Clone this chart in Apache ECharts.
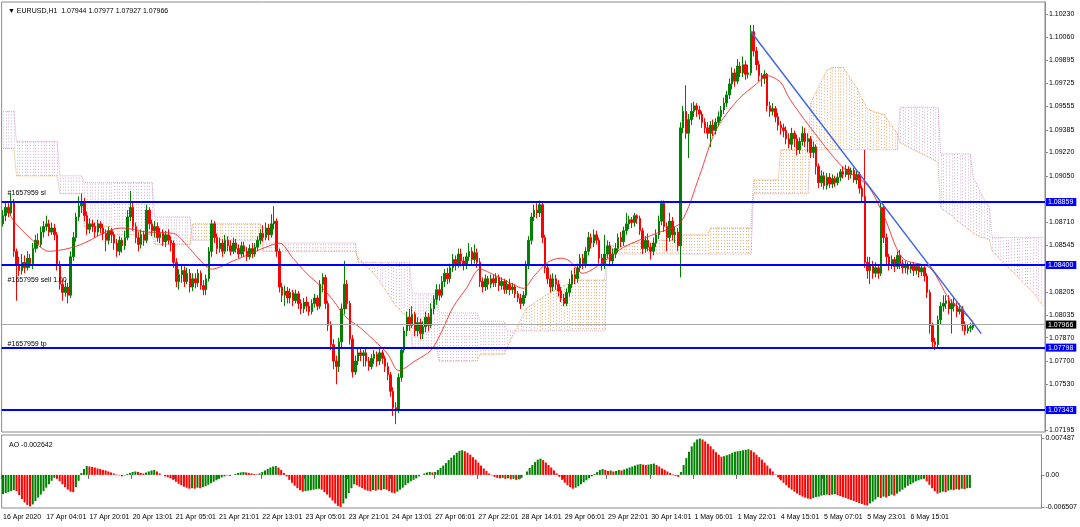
<!DOCTYPE html>
<html><head><meta charset="utf-8">
<script src="https://cdn.jsdelivr.net/npm/echarts@6/dist/echarts.min.js"></script>
<style>html,body{margin:0;padding:0;background:#fff;}#c{width:1080px;height:527px;}</style>
</head><body><div id="c"></div>
<script>
const symbolName = 'EURUSD,H1';
const tickLabels = ['16 Apr 2020','17 Apr 04:01','17 Apr 20:01','20 Apr 13:01','21 Apr 05:01','21 Apr 21:01','22 Apr 13:01','23 Apr 05:01','23 Apr 21:01','24 Apr 13:01','27 Apr 06:01','27 Apr 22:01','28 Apr 14:01','29 Apr 06:01','29 Apr 22:01','30 Apr 14:01','1 May 06:01','1 May 22:01','4 May 15:01','5 May 07:01','5 May 23:01','6 May 15:01'];
const priceTicks = [1.10230,1.10060,1.09895,1.09725,1.09555,1.09385,1.09220,1.09050,1.08710,1.08545,1.08205,1.08035,1.07870,1.07700,1.07530,1.07195];
const aoTicks = [0.007487, 0, -0.006507];
const levelLines = [1.08859, 1.08400, 1.07798, 1.07343];
const currentPrice = 1.07966;
const orderNoteTexts = ['#1657959 sl', '#1657959 sell 1.00', '#1657959 tp'];
const orderNoteLevels = [1.08859, 1.0824, 1.07798];
const trendStart = [276, 1.1010];
const trendEnd = [361, 1.0790];
const totalSlots = 385;

const opens = [
1.0870,1.0876,1.0882,1.0878,1.0886,1.0850,1.0840,1.0836,1.0842,1.0838,
1.0845,1.0841,1.0852,1.0858,1.0855,1.0864,1.0868,1.0870,1.0864,1.0867,
1.0862,1.0840,1.0826,1.0820,1.0824,1.0818,1.0846,1.0860,1.0875,1.0883,
1.0886,1.0876,1.0866,1.0870,1.0868,1.0864,1.0870,1.0867,1.0863,1.0858,
1.0865,1.0862,1.0856,1.0850,1.0858,1.0854,1.0860,1.0875,1.0882,1.0868,
1.0860,1.0855,1.0862,1.0858,1.0880,1.0870,1.0865,1.0868,1.0860,1.0863,
1.0857,1.0862,1.0858,1.0856,1.0842,1.0828,1.0833,1.0836,1.0828,1.0834,
1.0824,1.0830,1.0827,1.0834,1.0825,1.0822,1.0830,1.0850,1.0870,1.0860,
1.0852,1.0856,1.0850,1.0858,1.0854,1.0850,1.0856,1.0852,1.0848,1.0854,
1.0850,1.0846,1.0852,1.0848,1.0853,1.0858,1.0863,1.0860,1.0867,1.0862,
1.0870,1.0872,1.0850,1.0824,1.0818,1.0821,1.0816,1.0820,1.0814,1.0819,
1.0812,1.0808,1.0813,1.0810,1.0806,1.0812,1.0816,1.0810,1.0826,1.0831,
1.0812,1.0796,1.0782,1.0770,1.0766,1.0784,1.0808,1.0826,1.0812,1.0786,
1.0762,1.0770,1.0776,1.0774,1.0776,1.0770,1.0766,1.0772,1.0775,1.0770,
1.0776,1.0772,1.0766,1.0760,1.0748,1.0736,1.0734,1.0758,1.0778,1.0792,
1.0802,1.0796,1.0804,1.0792,1.0798,1.0790,1.0795,1.0802,1.0796,1.0808,
1.0815,1.0822,1.0818,1.0828,1.0834,1.0830,1.0838,1.0844,1.0840,1.0848,
1.0843,1.0840,1.0846,1.0850,1.0844,1.0849,1.0842,1.0828,1.0824,1.0830,
1.0826,1.0830,1.0827,1.0831,1.0825,1.0828,1.0822,1.0826,1.0822,1.0824,
1.0819,1.0816,1.0812,1.0818,1.0840,1.0858,1.0875,1.0880,1.0878,1.0884,
1.0860,1.0838,1.0830,1.0824,1.0830,1.0826,1.0821,1.0816,1.0812,1.0820,
1.0826,1.0833,1.0830,1.0838,1.0845,1.0841,1.0850,1.0860,1.0856,1.0862,
1.0858,1.0845,1.0840,1.0848,1.0854,1.0843,1.0848,1.0852,1.0860,1.0857,
1.0865,1.0870,1.0873,1.0871,1.0876,1.0874,1.0865,1.0852,1.0858,1.0853,
1.0850,1.0856,1.0862,1.0872,1.0885,1.0868,1.0860,1.0872,1.0862,1.0864,
1.0854,1.0940,1.0952,1.0936,1.0946,1.0952,1.0956,1.0953,1.0950,1.0944,
1.0940,1.0936,1.0942,1.0938,1.0944,1.0948,1.0953,1.0958,1.0964,1.0972,
1.0980,1.0974,1.0985,1.0980,1.0986,1.0979,1.0980,1.1010,1.0996,1.0986,
1.0978,1.0976,1.0979,1.0956,1.0952,1.0954,1.0948,1.0942,1.0940,1.0938,
1.0932,1.0928,1.0936,1.0932,1.0924,1.0930,1.0936,1.0930,1.0932,1.0922,
1.0926,1.0912,1.0900,1.0905,1.0898,1.0904,1.0899,1.0903,1.0900,1.0904,
1.0908,1.0906,1.0910,1.0906,1.0909,1.0902,1.0906,1.0896,1.0890,1.0842,
1.0836,1.0840,1.0834,1.0838,1.0834,1.0882,1.0860,1.0846,1.0840,1.0844,
1.0839,1.0847,1.0841,1.0838,1.0840,1.0837,1.0840,1.0836,1.0839,1.0835,
1.0838,1.0832,1.0820,1.0796,1.0784,1.0782,1.0800,1.0810,1.0812,1.0814,
1.0808,1.0812,1.0810,1.0806,1.0808,1.0796,1.0792,1.0794,1.07944];

const closes = [
1.0876,1.0882,1.0878,1.0886,1.0850,1.0840,1.0836,1.0842,1.0838,1.0845,
1.0841,1.0852,1.0858,1.0855,1.0864,1.0868,1.0870,1.0864,1.0867,1.0862,
1.0840,1.0826,1.0820,1.0824,1.0818,1.0846,1.0860,1.0875,1.0883,1.0886,
1.0876,1.0866,1.0870,1.0868,1.0864,1.0870,1.0867,1.0863,1.0858,1.0865,
1.0862,1.0856,1.0850,1.0858,1.0854,1.0860,1.0875,1.0882,1.0868,1.0860,
1.0855,1.0862,1.0858,1.0880,1.0870,1.0865,1.0868,1.0860,1.0863,1.0857,
1.0862,1.0858,1.0856,1.0842,1.0828,1.0833,1.0836,1.0828,1.0834,1.0824,
1.0830,1.0827,1.0834,1.0825,1.0822,1.0830,1.0850,1.0870,1.0860,1.0852,
1.0856,1.0850,1.0858,1.0854,1.0850,1.0856,1.0852,1.0848,1.0854,1.0850,
1.0846,1.0852,1.0848,1.0853,1.0858,1.0863,1.0860,1.0867,1.0862,1.0870,
1.0872,1.0850,1.0824,1.0818,1.0821,1.0816,1.0820,1.0814,1.0819,1.0812,
1.0808,1.0813,1.0810,1.0806,1.0812,1.0816,1.0810,1.0826,1.0831,1.0812,
1.0796,1.0782,1.0770,1.0766,1.0784,1.0808,1.0826,1.0812,1.0786,1.0762,
1.0770,1.0776,1.0774,1.0776,1.0770,1.0766,1.0772,1.0775,1.0770,1.0776,
1.0772,1.0766,1.0760,1.0748,1.0736,1.0734,1.0758,1.0778,1.0792,1.0802,
1.0796,1.0804,1.0792,1.0798,1.0790,1.0795,1.0802,1.0796,1.0808,1.0815,
1.0822,1.0818,1.0828,1.0834,1.0830,1.0838,1.0844,1.0840,1.0848,1.0843,
1.0840,1.0846,1.0850,1.0844,1.0849,1.0842,1.0828,1.0824,1.0830,1.0826,
1.0830,1.0827,1.0831,1.0825,1.0828,1.0822,1.0826,1.0822,1.0824,1.0819,
1.0816,1.0812,1.0818,1.0840,1.0858,1.0875,1.0880,1.0878,1.0884,1.0860,
1.0838,1.0830,1.0824,1.0830,1.0826,1.0821,1.0816,1.0812,1.0820,1.0826,
1.0833,1.0830,1.0838,1.0845,1.0841,1.0850,1.0860,1.0856,1.0862,1.0858,
1.0845,1.0840,1.0848,1.0854,1.0843,1.0848,1.0852,1.0860,1.0857,1.0865,
1.0870,1.0873,1.0871,1.0876,1.0874,1.0865,1.0852,1.0858,1.0853,1.0850,
1.0856,1.0862,1.0872,1.0885,1.0868,1.0860,1.0872,1.0862,1.0864,1.0854,
1.0940,1.0952,1.0936,1.0946,1.0952,1.0956,1.0953,1.0950,1.0944,1.0940,
1.0936,1.0942,1.0938,1.0944,1.0948,1.0953,1.0958,1.0964,1.0972,1.0980,
1.0974,1.0985,1.0980,1.0986,1.0979,1.0980,1.1010,1.0996,1.0986,1.0978,
1.0976,1.0979,1.0956,1.0952,1.0954,1.0948,1.0942,1.0940,1.0938,1.0932,
1.0928,1.0936,1.0932,1.0924,1.0930,1.0936,1.0930,1.0932,1.0922,1.0926,
1.0912,1.0900,1.0905,1.0898,1.0904,1.0899,1.0903,1.0900,1.0904,1.0908,
1.0906,1.0910,1.0906,1.0909,1.0902,1.0906,1.0896,1.0890,1.0842,1.0836,
1.0840,1.0834,1.0838,1.0834,1.0882,1.0860,1.0846,1.0840,1.0844,1.0839,
1.0847,1.0841,1.0838,1.0840,1.0837,1.0840,1.0836,1.0839,1.0835,1.0838,
1.0832,1.0820,1.0796,1.0784,1.0782,1.0800,1.0810,1.0812,1.0814,1.0808,
1.0812,1.0810,1.0806,1.0808,1.0796,1.0792,1.0794,1.0795,1.07966];

const lows = [
1.0868,1.0872,1.0875,1.0876,1.0846,1.0814,1.0832,1.0833,1.0834,1.0836,
1.0838,1.0837,1.0849,1.0852,1.0853,1.0860,1.0865,1.0861,1.0862,1.0858,
1.0836,1.0822,1.0814,1.0817,1.0812,1.0816,1.0843,1.0857,1.0872,1.0878,
1.0872,1.0862,1.0863,1.0864,1.0860,1.0861,1.0863,1.0858,1.0850,1.0855,
1.0856,1.0851,1.0846,1.0847,1.0849,1.0851,1.0858,1.0872,1.0865,1.0856,
1.0850,1.0852,1.0854,1.0856,1.0866,1.0861,1.0860,1.0857,1.0856,1.0854,
1.0853,1.0855,1.0850,1.0838,1.0824,1.0822,1.0827,1.0824,1.0826,1.0820,
1.0821,1.0823,1.0824,1.0822,1.0818,1.0818,1.0828,1.0846,1.0856,1.0848,
1.0849,1.0846,1.0848,1.0850,1.0847,1.0848,1.0849,1.0845,1.0846,1.0846,
1.0843,1.0844,1.0845,1.0846,1.0850,1.0855,1.0857,1.0858,1.0858,1.0860,
1.0866,1.0846,1.0820,1.0813,1.0810,1.0812,1.0812,1.0810,1.0812,1.0808,
1.0804,1.0805,1.0806,1.0803,1.0804,1.0809,1.0807,1.0808,1.0820,1.0808,
1.0792,1.0778,1.0764,1.0753,1.0762,1.0780,1.0804,1.0808,1.0782,1.0758,
1.0760,1.0767,1.0770,1.0766,1.0766,1.0763,1.0764,1.0768,1.0766,1.0767,
1.0768,1.0762,1.0756,1.0744,1.0730,1.0724,1.0732,1.0755,1.0776,1.0788,
1.0792,1.0794,1.0788,1.0788,1.0786,1.0786,1.0791,1.0792,1.0794,1.0804,
1.0811,1.0814,1.0816,1.0824,1.0826,1.0827,1.0835,1.0836,1.0838,1.0839,
1.0836,1.0837,1.0843,1.0840,1.0841,1.0838,1.0824,1.0820,1.0821,1.0822,
1.0823,1.0824,1.0824,1.0821,1.0822,1.0819,1.0819,1.0818,1.0819,1.0816,
1.0813,1.0808,1.0810,1.0816,1.0837,1.0855,1.0872,1.0874,1.0875,1.0856,
1.0834,1.0826,1.0820,1.0821,1.0822,1.0817,1.0813,1.0810,1.0810,1.0817,
1.0823,1.0826,1.0827,1.0835,1.0837,1.0838,1.0847,1.0852,1.0853,1.0855,
1.0841,1.0836,1.0837,1.0845,1.0839,1.0840,1.0845,1.0849,1.0853,1.0854,
1.0862,1.0866,1.0867,1.0868,1.0870,1.0862,1.0848,1.0849,1.0850,1.0844,
1.0847,1.0853,1.0859,1.0869,1.0864,1.0850,1.0857,1.0858,1.0856,1.0850,
1.0831,1.0936,1.0932,1.0918,1.0942,1.0948,1.0948,1.0946,1.0940,1.0936,
1.0932,1.0926,1.0934,1.0935,1.0941,1.0945,1.0950,1.0955,1.0961,1.0968,
1.0970,1.0972,1.0977,1.0977,1.0975,1.0976,1.0978,1.0992,1.0982,1.0974,
1.0970,1.0972,1.0952,1.0948,1.0949,1.0944,1.0938,1.0935,1.0933,1.0928,
1.0925,1.0924,1.0926,1.0920,1.0921,1.0927,1.0926,1.0922,1.0918,1.0918,
1.0906,1.0896,1.0897,1.0895,1.0895,1.0896,1.0896,1.0897,1.0898,1.0901,
1.0903,1.0904,1.0902,1.0903,1.0900,1.0899,1.0892,1.0886,1.0838,1.0830,
1.0826,1.0830,1.0831,1.0830,1.0832,1.0856,1.0840,1.0836,1.0837,1.0835,
1.0837,1.0837,1.0834,1.0834,1.0833,1.0834,1.0832,1.0833,1.0831,1.0832,
1.0828,1.0816,1.0790,1.0780,1.0778,1.0780,1.0797,1.0806,1.0808,1.0804,
1.0790,1.0806,1.0802,1.0804,1.0792,1.0789,1.0790,1.0791,1.07927];

const highs = [
1.0880,1.0886,1.0885,1.0892,1.0888,1.0852,1.0846,1.0848,1.0847,1.0850,
1.0848,1.0856,1.0862,1.0863,1.0868,1.0872,1.0876,1.0873,1.0871,1.0870,
1.0864,1.0843,1.0829,1.0829,1.0827,1.0850,1.0864,1.0878,1.0890,1.0892,
1.0889,1.0879,1.0874,1.0873,1.0871,1.0873,1.0872,1.0870,1.0866,1.0868,
1.0867,1.0864,1.0859,1.0861,1.0860,1.0865,1.0880,1.0894,1.0886,1.0871,
1.0864,1.0866,1.0865,1.0884,1.0882,1.0873,1.0872,1.0871,1.0867,1.0866,
1.0865,1.0866,1.0861,1.0858,1.0845,1.0837,1.0840,1.0839,1.0838,1.0837,
1.0834,1.0834,1.0837,1.0836,1.0829,1.0833,1.0853,1.0873,1.0872,1.0863,
1.0860,1.0859,1.0862,1.0861,1.0858,1.0860,1.0859,1.0855,1.0857,1.0857,
1.0853,1.0855,1.0856,1.0856,1.0861,1.0866,1.0869,1.0871,1.0870,1.0877,
1.0883,1.0874,1.0852,1.0827,1.0825,1.0824,1.0823,1.0822,1.0822,1.0821,
1.0815,1.0816,1.0817,1.0813,1.0815,1.0819,1.0818,1.0829,1.0834,1.0833,
1.0814,1.0799,1.0786,1.0774,1.0787,1.0812,1.0843,1.0829,1.0814,1.0789,
1.0774,1.0779,1.0780,1.0778,1.0779,1.0773,1.0775,1.0778,1.0777,1.0779,
1.0778,1.0774,1.0769,1.0762,1.0751,1.0740,1.0761,1.0780,1.0795,1.0806,
1.0808,1.0810,1.0806,1.0802,1.0801,1.0799,1.0806,1.0805,1.0812,1.0818,
1.0826,1.0826,1.0832,1.0837,1.0838,1.0841,1.0848,1.0847,1.0852,1.0852,
1.0846,1.0849,1.0856,1.0853,1.0855,1.0852,1.0845,1.0831,1.0833,1.0832,
1.0833,1.0833,1.0834,1.0833,1.0831,1.0830,1.0829,1.0830,1.0827,1.0826,
1.0821,1.0819,1.0821,1.0843,1.0861,1.0878,1.0884,1.0885,1.0887,1.0886,
1.0862,1.0841,1.0833,1.0834,1.0833,1.0829,1.0824,1.0819,1.0823,1.0830,
1.0836,1.0838,1.0841,1.0848,1.0848,1.0853,1.0864,1.0863,1.0866,1.0865,
1.0860,1.0848,1.0862,1.0858,1.0857,1.0852,1.0856,1.0863,1.0864,1.0868,
1.0878,1.0876,1.0875,1.0878,1.0877,1.0876,1.0867,1.0861,1.0863,1.0856,
1.0860,1.0866,1.0876,1.0887,1.0887,1.0871,1.0878,1.0875,1.0868,1.0867,
1.0944,1.0956,1.0971,1.0950,1.0958,1.0959,1.0958,1.0956,1.0952,1.0947,
1.0944,1.0945,1.0946,1.0947,1.0952,1.0956,1.0962,1.0967,1.0976,1.0984,
1.0983,1.0990,1.0988,1.0992,1.0989,1.0986,1.1015,1.1015,1.0999,1.0989,
1.0980,1.0982,1.0980,1.0959,1.0958,1.0956,1.0951,1.0945,1.0943,1.0941,
1.0936,1.0940,1.0938,1.0935,1.0933,1.0941,1.0940,1.0936,1.0934,1.0930,
1.0928,1.0914,1.0909,1.0908,1.0907,1.0907,1.0906,1.0905,1.0907,1.0910,
1.0912,1.0913,1.0912,1.0911,1.0911,1.0909,1.0908,1.0898,1.0924,1.0846,
1.0846,1.0843,1.0842,1.0840,1.0886,1.0884,1.0863,1.0848,1.0847,1.0846,
1.0850,1.0851,1.0844,1.0843,1.0842,1.0842,1.0842,1.0841,1.0841,1.0840,
1.0840,1.0834,1.0822,1.0798,1.0787,1.0803,1.0813,1.0818,1.0818,1.0818,
1.0815,1.0816,1.0813,1.0812,1.0810,1.0799,1.0797,1.0798,1.07977];

const spanA = [
1.0925,1.0925,1.0925,1.0925,1.0925,1.0905,1.0905,1.0905,1.0905,1.0905,
1.0905,1.0905,1.0905,1.0905,1.0905,1.0905,1.0905,1.0905,1.0905,1.0905,
1.0905,1.0892,1.0892,1.0892,1.0892,1.0892,1.0892,1.0892,1.0892,1.0892,
1.0868,1.0868,1.0868,1.0868,1.0868,1.0868,1.0868,1.0868,1.0868,1.0868,
1.0868,1.0862,1.0862,1.0862,1.0862,1.0862,1.0862,1.0862,1.0862,1.0862,
1.0862,1.0862,1.0862,1.0862,1.0862,1.0862,1.0855,1.0855,1.0855,1.0855,
1.0855,1.0855,1.0855,1.0855,1.0855,1.0855,1.0855,1.0855,1.0855,1.0855,
1.0870,1.0870,1.0870,1.0870,1.0870,1.0870,1.0870,1.0870,1.0870,1.0870,
1.0870,1.0870,1.0870,1.0870,1.0870,1.0870,1.0870,1.0870,1.0870,1.0870,
1.0870,1.0870,1.0870,1.0870,1.0870,1.0870,1.0850,1.0850,1.0850,1.0850,
1.0850,1.0850,1.0850,1.0850,1.0850,1.0850,1.0850,1.0850,1.0850,1.0850,
1.0850,1.0850,1.0850,1.0850,1.0850,1.0850,1.0850,1.0850,1.0850,1.0850,
1.0850,1.0850,1.0850,1.0850,1.0850,1.0850,1.0850,1.0850,1.0850,1.0850,
1.0850,1.0845,1.0843,1.0841,1.0839,1.0837,1.0835,1.0833,1.0831,1.0828,
1.0825,1.0822,1.0819,1.0816,1.0813,1.0810,1.0808,1.0806,1.0804,1.0803,
1.0802,1.0780,1.0780,1.0780,1.0780,1.0780,1.0780,1.0780,1.0780,1.0780,
1.0780,1.0770,1.0770,1.0770,1.0770,1.0770,1.0770,1.0770,1.0770,1.0770,
1.0770,1.0770,1.0770,1.0770,1.0770,1.0770,1.0775,1.0775,1.0775,1.0775,
1.0775,1.0775,1.0775,1.0775,1.0775,1.0775,1.0780,1.0784,1.0788,1.0792,
1.0796,1.0800,1.0804,1.0808,1.0810,1.0811,1.0812,1.0814,1.0815,1.0816,
1.0818,1.0819,1.0820,1.0821,1.0822,1.0823,1.0824,1.0825,1.0826,1.0828,
1.0829,1.0829,1.0829,1.0829,1.0829,1.0829,1.0829,1.0829,1.0829,1.0829,
1.0829,1.0829,1.0829,1.0854,1.0854,1.0854,1.0854,1.0854,1.0854,1.0854,
1.0854,1.0854,1.0856,1.0856,1.0856,1.0856,1.0856,1.0856,1.0856,1.0856,
1.0856,1.0858,1.0858,1.0858,1.0858,1.0858,1.0858,1.0858,1.0858,1.0858,
1.0858,1.0862,1.0862,1.0862,1.0862,1.0862,1.0862,1.0862,1.0862,1.0862,
1.0862,1.0867,1.0867,1.0867,1.0867,1.0867,1.0867,1.0867,1.0867,1.0867,
1.0867,1.0867,1.0867,1.0867,1.0867,1.0867,1.0867,1.0902,1.0902,1.0902,
1.0902,1.0902,1.0902,1.0902,1.0902,1.0902,1.0902,1.0924,1.0924,1.0924,
1.0924,1.0924,1.0924,1.0924,1.0924,1.0924,1.0924,1.0924,1.0958,1.0962,
1.0966,1.0970,1.0974,1.0978,1.0982,1.0983,1.0984,1.0984,1.0984,1.0984,
1.0984,1.0981,1.0978,1.0975,1.0972,1.0969,1.0965,1.0961,1.0957,1.0954,
1.0953,1.0952,1.0951,1.0951,1.0950,1.0950,1.0947,1.0944,1.0941,1.0938,
1.0936,1.0929,1.0928,1.0927,1.0926,1.0925,1.0924,1.0923,1.0922,1.0921,
1.0920,1.0919,1.0918,1.0917,1.0916,1.0914,1.0882,1.0880,1.0879,1.0877,
1.0876,1.0874,1.0872,1.0871,1.0869,1.0868,1.0866,1.0865,1.0863,1.0862,
1.0861,1.0860,1.0860,1.0859,1.0858,1.0850,1.0848,1.0846,1.0844,1.0842,
1.0840,1.0838,1.0836,1.0834,1.0832,1.0830,1.0828,1.0826,1.0824,1.0822,
1.0820,1.0818,1.0815,1.0812,1.0810];

const spanB = [
1.0952,1.0952,1.0952,1.0952,1.0952,1.0930,1.0930,1.0930,1.0930,1.0930,
1.0930,1.0930,1.0930,1.0930,1.0930,1.0930,1.0930,1.0930,1.0930,1.0930,
1.0930,1.0905,1.0905,1.0905,1.0905,1.0905,1.0905,1.0905,1.0905,1.0905,
1.0900,1.0900,1.0900,1.0900,1.0900,1.0900,1.0900,1.0900,1.0900,1.0900,
1.0900,1.0900,1.0900,1.0900,1.0900,1.0900,1.0900,1.0900,1.0900,1.0900,
1.0900,1.0900,1.0900,1.0900,1.0900,1.0900,1.0875,1.0875,1.0875,1.0875,
1.0875,1.0875,1.0875,1.0875,1.0875,1.0875,1.0875,1.0875,1.0875,1.0875,
1.0858,1.0858,1.0858,1.0858,1.0858,1.0858,1.0858,1.0858,1.0858,1.0858,
1.0858,1.0858,1.0858,1.0858,1.0858,1.0858,1.0858,1.0858,1.0858,1.0858,
1.0858,1.0858,1.0858,1.0858,1.0858,1.0858,1.0856,1.0856,1.0856,1.0856,
1.0856,1.0856,1.0856,1.0856,1.0856,1.0856,1.0856,1.0856,1.0856,1.0856,
1.0856,1.0856,1.0856,1.0856,1.0856,1.0856,1.0856,1.0856,1.0856,1.0856,
1.0856,1.0856,1.0856,1.0856,1.0856,1.0856,1.0856,1.0856,1.0856,1.0856,
1.0856,1.0842,1.0842,1.0842,1.0842,1.0842,1.0842,1.0842,1.0842,1.0842,
1.0842,1.0842,1.0842,1.0842,1.0842,1.0842,1.0842,1.0842,1.0842,1.0842,
1.0842,1.0819,1.0819,1.0819,1.0819,1.0819,1.0819,1.0819,1.0819,1.0819,
1.0819,1.0805,1.0805,1.0805,1.0805,1.0805,1.0805,1.0805,1.0805,1.0805,
1.0805,1.0805,1.0805,1.0805,1.0805,1.0805,1.0799,1.0799,1.0799,1.0799,
1.0799,1.0799,1.0799,1.0799,1.0799,1.0799,1.0792,1.0792,1.0792,1.0792,
1.0792,1.0792,1.0792,1.0792,1.0792,1.0792,1.0792,1.0792,1.0792,1.0792,
1.0792,1.0792,1.0792,1.0792,1.0792,1.0792,1.0792,1.0792,1.0792,1.0792,
1.0792,1.0792,1.0792,1.0792,1.0792,1.0792,1.0792,1.0792,1.0792,1.0792,
1.0792,1.0792,1.0792,1.0848,1.0848,1.0848,1.0848,1.0848,1.0848,1.0848,
1.0848,1.0848,1.0848,1.0848,1.0848,1.0848,1.0848,1.0848,1.0848,1.0848,
1.0848,1.0848,1.0848,1.0848,1.0848,1.0848,1.0848,1.0848,1.0848,1.0848,
1.0848,1.0848,1.0848,1.0848,1.0848,1.0848,1.0848,1.0848,1.0848,1.0848,
1.0848,1.0848,1.0848,1.0848,1.0848,1.0848,1.0848,1.0848,1.0848,1.0848,
1.0848,1.0848,1.0848,1.0848,1.0848,1.0848,1.0848,1.0892,1.0892,1.0892,
1.0892,1.0892,1.0892,1.0892,1.0892,1.0892,1.0892,1.0892,1.0892,1.0892,
1.0892,1.0892,1.0892,1.0892,1.0892,1.0892,1.0892,1.0892,1.0924,1.0924,
1.0924,1.0924,1.0924,1.0924,1.0924,1.0924,1.0924,1.0924,1.0924,1.0924,
1.0924,1.0924,1.0924,1.0924,1.0924,1.0924,1.0924,1.0924,1.0924,1.0924,
1.0924,1.0924,1.0924,1.0924,1.0924,1.0924,1.0924,1.0924,1.0924,1.0924,
1.0924,1.0955,1.0955,1.0955,1.0955,1.0955,1.0955,1.0955,1.0955,1.0955,
1.0955,1.0955,1.0955,1.0955,1.0955,1.0955,1.0921,1.0921,1.0921,1.0921,
1.0921,1.0921,1.0921,1.0921,1.0921,1.0921,1.0921,1.0921,1.0904,1.0900,
1.0896,1.0892,1.0888,1.0885,1.0882,1.0860,1.0860,1.0860,1.0860,1.0860,
1.0860,1.0860,1.0860,1.0860,1.0860,1.0860,1.0860,1.0860,1.0860,1.0860,
1.0860,1.0860,1.0860,1.0860,1.0860];

const maPoints = [[2,1.0880],[4,1.0872],[11,1.0858],[17,1.0850],[24,1.0852],[30,1.0856],[39,1.0865],[44,1.0867],[53,1.0864],[63,1.0863],[68,1.0854],[73,1.0843],[77,1.0837],[85,1.0843],[91,1.0848],[97,1.0853],[102,1.0856],[107,1.0845],[112,1.0834],[117,1.0825],[122,1.0814],[126,1.0803],[132,1.0794],[137,1.0785],[142,1.0775],[146,1.0763],[152,1.0770],[158,1.0778],[162,1.0792],[166,1.0809],[171,1.0823],[176,1.0837],[182,1.0832],[187,1.0827],[192,1.0823],[196,1.0832],[201,1.0842],[206,1.0845],[209,1.0843],[214,1.0834],[220,1.0840],[229,1.0853],[241,1.0863],[250,1.0871],[257,1.0905],[263,1.0938],[271,1.0960],[278,1.0972],[282,1.0978],[287,1.0973],[290,1.0962],[298,1.0940],[310,1.0911],[319,1.0898],[325,1.0876],[332,1.0845],[342,1.0838],[349,1.0816],[358,1.0799]];

const aoValues = [
-0.0039,-0.0037,-0.0035,-0.0033,-0.0031,-0.0033,-0.0041,-0.0049,-0.0056,-0.0061,
-0.0064,-0.0060,-0.0053,-0.0046,-0.0040,-0.0033,-0.0026,-0.0019,-0.0012,-0.0006,
-0.0008,-0.0013,-0.0019,-0.0025,-0.0030,-0.0034,-0.0035,-0.0025,-0.0012,0.0004,
0.0012,0.0018,0.0017,0.0016,0.0015,0.0013,0.0012,0.0010,0.0009,0.0007,
0.0005,0.0003,0.0001,-0.0001,-0.0003,-0.0001,0.0002,0.0004,0.0006,0.0007,
0.0006,0.0004,0.0003,0.0005,0.0007,0.0009,0.0010,0.0007,0.0003,0.0000,
-0.0003,-0.0005,-0.0007,-0.0010,-0.0014,-0.0018,-0.0021,-0.0024,-0.0026,-0.0028,
-0.0027,-0.0028,-0.0026,-0.0027,-0.0025,-0.0023,-0.0020,-0.0017,-0.0014,-0.0011,
-0.0008,-0.0005,-0.0003,-0.0001,-0.0002,0.0000,0.0002,0.0004,0.0005,0.0006,
0.0005,0.0004,0.0003,0.0002,0.0001,0.0003,0.0006,0.0009,0.0012,0.0015,
0.0017,0.0018,0.0015,0.0010,0.0004,-0.0003,-0.0010,-0.0016,-0.0022,-0.0027,
-0.0031,-0.0034,-0.0033,-0.0032,-0.0031,-0.0030,-0.0029,-0.0028,-0.0030,-0.0035,
-0.0040,-0.0046,-0.0052,-0.0058,-0.0063,-0.0065,-0.0058,-0.0048,-0.0037,-0.0027,
-0.0019,-0.0021,-0.0024,-0.0027,-0.0030,-0.0032,-0.0033,-0.0031,-0.0032,-0.0030,
-0.0031,-0.0029,-0.0030,-0.0033,-0.0036,-0.0037,-0.0034,-0.0030,-0.0026,-0.0021,
-0.0017,-0.0013,-0.0010,-0.0007,-0.0003,0.0000,0.0003,0.0005,0.0006,0.0005,
0.0006,0.0010,0.0014,0.0019,0.0024,0.0030,0.0035,0.0040,0.0045,0.0049,
0.0050,0.0048,0.0045,0.0041,0.0036,0.0031,0.0025,0.0019,0.0013,0.0008,
0.0003,-0.0001,-0.0004,-0.0006,-0.0007,-0.0006,-0.0008,-0.0007,-0.0009,-0.0008,
-0.0010,-0.0009,-0.0006,0.0000,0.0007,0.0014,0.0020,0.0026,0.0031,0.0033,
0.0030,0.0025,0.0020,0.0015,0.0009,0.0003,-0.0004,-0.0010,-0.0016,-0.0021,
-0.0025,-0.0028,-0.0026,-0.0023,-0.0019,-0.0015,-0.0011,-0.0007,-0.0003,0.0002,
0.0006,0.0010,0.0012,0.0010,0.0008,0.0009,0.0007,0.0008,0.0010,0.0009,
0.0011,0.0013,0.0015,0.0017,0.0019,0.0021,0.0022,0.0021,0.0020,0.0021,
0.0022,0.0023,0.0020,0.0017,0.0013,0.0010,0.0007,0.0004,0.0001,-0.0002,
-0.0004,0.0006,0.0020,0.0034,0.0047,0.0058,0.0066,0.0072,0.0074,0.0072,
0.0068,0.0063,0.0058,0.0052,0.0046,0.0041,0.0037,0.0038,0.0040,0.0042,
0.0045,0.0047,0.0048,0.0049,0.0050,0.0051,0.0052,0.0050,0.0046,0.0041,
0.0036,0.0031,0.0025,0.0019,0.0013,0.0007,0.0001,-0.0005,-0.0011,-0.0016,
-0.0021,-0.0026,-0.0030,-0.0034,-0.0038,-0.0041,-0.0044,-0.0046,-0.0048,-0.0049,
-0.0047,-0.0045,-0.0044,-0.0042,-0.0041,-0.0040,-0.0041,-0.0040,-0.0039,-0.0041,
-0.0043,-0.0045,-0.0047,-0.0049,-0.0051,-0.0053,-0.0055,-0.0057,-0.0059,-0.0061,
-0.0062,-0.0058,-0.0054,-0.0050,-0.0045,-0.0047,-0.0044,-0.0046,-0.0043,-0.0040,
-0.0042,-0.0038,-0.0034,-0.0030,-0.0026,-0.0022,-0.0019,-0.0016,-0.0013,-0.0011,
-0.0009,-0.0008,-0.0013,-0.0020,-0.0027,-0.0033,-0.0038,-0.0036,-0.0034,-0.0035,
-0.0032,-0.0030,-0.0031,-0.0029,-0.0030,-0.0028,-0.0029,-0.0027,-0.002642];

// ---------------- chart ----------------
const FONT = 'Liberation Sans';
const UP = '#008000', DOWN = '#ff0000';
const SANDY = '#f4a460', THISTLE = '#cfa9cf';
const categories = Array.from({length: totalSlots}, (_, i) => String(i));
const candleData = opens.map((o, i) => [o, closes[i], lows[i], highs[i]]);
const last = closes.length - 1;
const titleText = '\u25BC ' + symbolName + '  ' + opens[last].toFixed(5) + ' ' + highs[last].toFixed(5) + ' ' + lows[last].toFixed(5) + ' ' + closes[last].toFixed(5);

let upState = true;
const aoData = aoValues.map((v, i) => {
  if (i > 0) { if (v > aoValues[i-1]) upState = true; else if (v < aoValues[i-1]) upState = false; }
  return {value: v, itemStyle: {color: upState ? UP : DOWN}};
});

const cloudData = spanA.map((a, i) => [i, a, spanB[i]]);

const GL = 1.6, GW = 1043.4;
const lblStyle = {fontFamily: FONT, fontSize: 7, color: '#000'};
const noteGaps = [5, 3, 0];

const markData = [];
levelLines.forEach(v => markData.push({yAxis: v, lineStyle: {color: '#0000ff', width: 2, type: 'solid'},
  label: {show: true, position: 'end', formatter: () => v.toFixed(5), backgroundColor: '#0000ff', color: '#fff', fontFamily: FONT, fontSize: 7, padding: [1, 3, 0, 2], distance: 1}}));
markData.push({yAxis: currentPrice, lineStyle: {color: '#a8a8a8', width: 1, type: 'solid'},
  label: {show: true, position: 'end', formatter: () => currentPrice.toFixed(5), backgroundColor: '#000', color: '#fff', fontFamily: FONT, fontSize: 7, padding: [1, 3, 0, 2], distance: 1}});
orderNoteTexts.forEach((t, k) => markData.push({yAxis: orderNoteLevels[k], lineStyle: {color: 'rgba(0,0,0,0)', width: 1, type: 'solid', opacity: 1},
  label: {show: true, position: 'insideStartTop', formatter: t, color: '#000', opacity: 1, fontFamily: FONT, fontSize: 7, distance: [6, noteGaps[k]]}}));
markData.push([{coord: trendStart, lineStyle: {color: '#4169e1', width: 1.5, type: 'solid'}, label: {show: false}}, {coord: trendEnd}]);

const chart = echarts.init(document.getElementById('c'), null, {renderer: 'canvas'});
chart.setOption({
  animation: false,
  backgroundColor: '#fff',
  textStyle: {fontFamily: FONT},
  title: [
    {text: titleText, left: 3, top: 3, textStyle: {fontFamily: FONT, fontSize: 7, fontWeight: 'normal', color: '#000'}},
    {text: 'AO ' + aoValues[last].toFixed(6), left: 4, top: 437, textStyle: {fontFamily: FONT, fontSize: 7, fontWeight: 'normal', color: '#000'}}
  ],
  grid: [
    {left: GL, width: GW, top: 2, height: 430, show: true, borderColor: '#8a8a8a', borderWidth: 1, backgroundColor: 'transparent'},
    {left: GL, width: GW, top: 435, height: 73, show: true, borderColor: '#8a8a8a', borderWidth: 1, backgroundColor: 'transparent'}
  ],
  xAxis: [
    {type: 'category', gridIndex: 0, data: categories, boundaryGap: true, axisLine: {show: false}, axisTick: {show: false}, axisLabel: {show: false}, splitLine: {show: false}},
    {type: 'category', gridIndex: 1, data: categories, boundaryGap: true, axisLine: {show: false},
      axisTick: {show: true, length: 4, lineStyle: {color: '#666'}, interval: i => i % 16 === 0 && (i / 16) < tickLabels.length},
      axisLabel: {show: true, interval: i => i % 16 === 0 && (i / 16) < tickLabels.length, formatter: (v, i) => tickLabels[Math.round(Number(v) / 16)] || '', align: 'left', margin: 6, fontFamily: FONT, fontSize: 7, color: '#000'},
      splitLine: {show: false}}
  ],
  yAxis: [
    {type: 'value', gridIndex: 0, position: 'right', min: 1.07183, max: 1.10317, scale: true,
      axisLine: {show: true, lineStyle: {color: '#8a8a8a'}},
      axisTick: {show: true, length: 3, lineStyle: {color: '#8a8a8a'}, customValues: priceTicks},
      axisLabel: {show: true, customValues: priceTicks, formatter: v => Number(v).toFixed(5), margin: 4, ...lblStyle},
      splitLine: {show: false}},
    {type: 'value', gridIndex: 1, position: 'right', min: -0.00672, max: 0.00810,
      axisLine: {show: true, lineStyle: {color: '#8a8a8a'}},
      axisTick: {show: true, length: 3, lineStyle: {color: '#8a8a8a'}, customValues: aoTicks},
      axisLabel: {show: true, customValues: aoTicks, formatter: v => Number(v) === 0 ? '0.00' : Number(v).toFixed(6), margin: 4, ...lblStyle},
      splitLine: {show: false}}
  ],
  series: [
    {type: 'custom', name: 'cloud', xAxisIndex: 0, yAxisIndex: 0, z: 1, silent: true, clip: true,
      encode: {x: 0, y: [1, 2]}, data: cloudData,
      renderItem: (params, api) => {
        const i = api.value(0), a = api.value(1), b = api.value(2);
        const pa = api.coord([i, a]), pb = api.coord([i, b]);
        const x = Math.round(pa[0]) + 0.5;
        return {type: 'line', shape: {x1: x, y1: pa[1], x2: x, y2: pb[1]},
          style: {stroke: a >= b ? SANDY : THISTLE, lineWidth: 1, lineDash: [1, 2], opacity: 0.9}};
      }},
    {type: 'line', name: 'spanA', xAxisIndex: 0, yAxisIndex: 0, data: spanA, symbol: 'none', z: 2, silent: true,
      lineStyle: {color: SANDY, width: 1, type: 'dotted'}},
    {type: 'line', name: 'spanB', xAxisIndex: 0, yAxisIndex: 0, data: spanB, symbol: 'none', z: 2, silent: true,
      lineStyle: {color: THISTLE, width: 1, type: 'dotted'}},
    {type: 'candlestick', name: 'price', xAxisIndex: 0, yAxisIndex: 0, data: candleData, barWidth: 2, z: 3,
      itemStyle: {color: UP, color0: DOWN, borderColor: UP, borderColor0: DOWN, borderWidth: 1},
      markLine: {silent: true, precision: 5, symbol: ['none', 'none'], animation: false, data: markData}},
    {type: 'line', name: 'ma', xAxisIndex: 0, yAxisIndex: 0, data: maPoints, symbol: 'none', smooth: 0.3, z: 4, silent: true,
      lineStyle: {color: '#ff2020', width: 1, opacity: 0.85}},
    {type: 'bar', name: 'AO', xAxisIndex: 1, yAxisIndex: 1, data: aoData, barWidth: 2, z: 3, silent: true}
  ]
});
</script></body></html>
